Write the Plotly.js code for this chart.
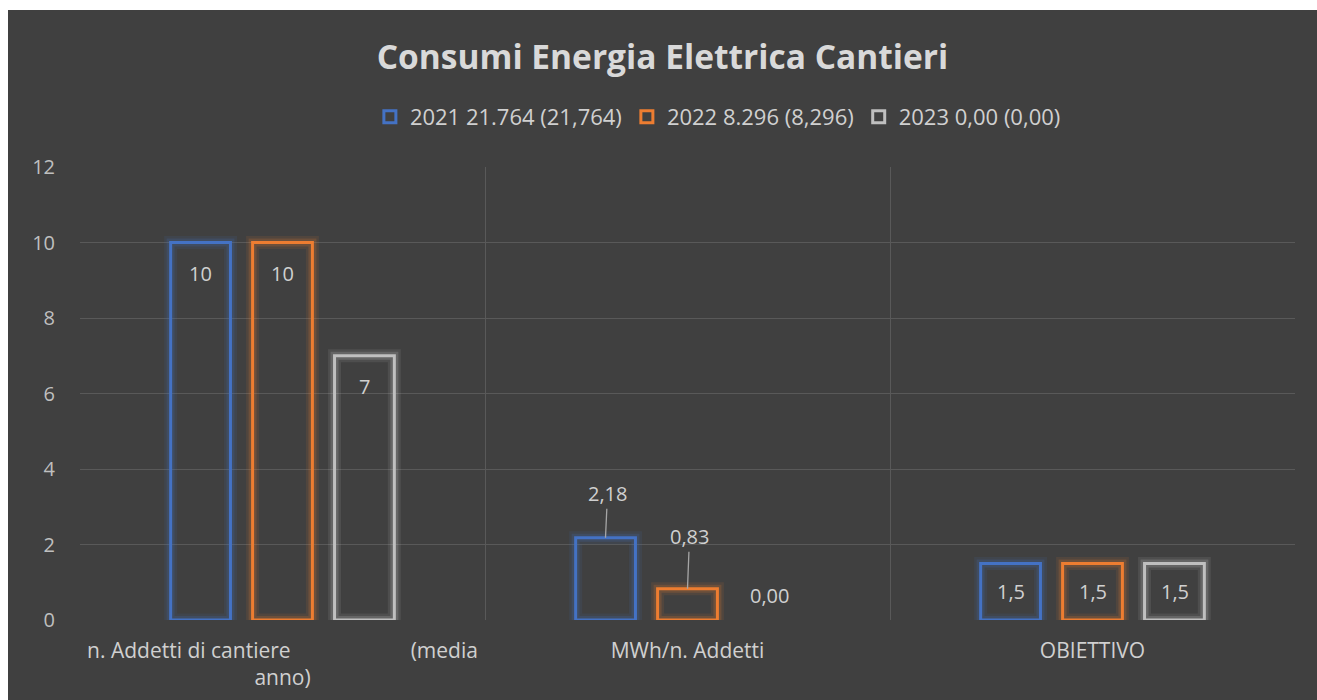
<!DOCTYPE html>
<html><head><meta charset="utf-8">
<script src="https://cdn.plot.ly/plotly-3.0.1.min.js"></script>
<style>html,body{margin:0;padding:0;background:#fff;overflow:hidden}
#chart{position:absolute;left:8px;top:10px;width:1309px;height:690px}</style>
</head><body><div id="chart"></div><script>
const NB = "\u00A0";
const categories = ["n. Addetti di cantiere" + NB.repeat(22) + "(media<br>anno)", "MWh/n. Addetti", "OBIETTIVO"];
const seriesNames = ["2021 21.764 (21,764)", "2022 8.296 (8,296)", "2023 0,00 (0,00)"];
const values2021 = [10, 2.18, 1.5];
const values2022 = [10, 0.83, 1.5];
const values2023 = [7, 0, 1.5];
const labels2021 = ["10", "2,18", "1,5"];
const labels2022 = ["10", "0,83", "1,5"];
const labels2023 = ["7", "0,00", "1,5"];
const yTicks = [0, 2, 4, 6, 8, 10, 12];

const seriesValues = [values2021, values2022, values2023];
const seriesLabels = [labels2021, labels2022, labels2023];
const lineColors = ["#4472C4", "#ED7D31", "#BFBFBF"];
const glowRGB = ["68,114,196", "237,125,49", "210,210,210"];
const slotShift = [-82, 0, 82];
const leaderOffset = [-42, -50, 0];
const txtColor = "#d0d0d0";
const fontFam = "'Open Sans', 'Noto Sans', sans-serif";

const traces = [];
// soft glow layers
[[13, 0.10], [8, 0.18]].forEach(([w, a]) => {
  seriesValues.forEach((vals, s) => {
    traces.push({
      type: "bar", x: categories, y: vals, offsetgroup: "g" + s, showlegend: false, hoverinfo: "skip",
      marker: {color: "rgba(0,0,0,0)", line: {color: "rgba(" + glowRGB[s] + "," + a + ")", width: vals.map(v => v > 0 ? w : 0)}}
    });
  });
});
seriesValues.forEach((vals, s) => {
  traces.push({
    type: "bar", x: categories, y: vals, name: seriesNames[s], offsetgroup: "g" + s,
    marker: {color: "rgba(0,0,0,0)", line: {color: lineColors[s], width: vals.map(v => v > 0 ? 3 : 0)}}
  });
});

const annotations = [];
seriesValues.forEach((vals, s) => {
  vals.forEach((v, i) => {
    const base = {x: categories[i], xref: "x", yref: "y", text: seriesLabels[s][i],
      xshift: slotShift[s], font: {size: 20, color: txtColor, family: fontFam}};
    if (i === 0) {
      annotations.push(Object.assign(base, {y: v, yanchor: "top", yshift: -15, showarrow: false}));
    } else if (i === 2) {
      annotations.push(Object.assign(base, {y: v / 2, yanchor: "middle", showarrow: false}));
    } else if (v > 0) {
      annotations.push(Object.assign(base, {y: v, showarrow: true, arrowhead: 0, arrowwidth: 1.3,
        arrowcolor: "#a6a6a6", ax: 2, ay: leaderOffset[s] - 2, axref: "pixel", ayref: "pixel", standoff: 0}));
    } else {
      annotations.push(Object.assign(base, {y: v, yanchor: "bottom", yshift: 9, showarrow: false}));
    }
  });
});

const layout = {
  width: 1309, height: 690,
  paper_bgcolor: "#404040", plot_bgcolor: "#404040",
  margin: {l: 72, r: 22, t: 157, b: 80},
  barmode: "group", bargap: 0.393, bargroupgap: 0.27,
  title: {text: "<b>Consumi Energia Elettrica Cantieri</b>", x: 0.5, xanchor: "center",
    y: 0.932, yanchor: "middle", yref: "container",
    font: {size: 33.5, color: "#d9d9d9", family: fontFam}},
  legend: {orientation: "h", x: 0.525, xanchor: "center", y: 0.845, yanchor: "middle", yref: "container",
    font: {size: 22, color: txtColor, family: fontFam}, itemwidth: 30, bgcolor: "rgba(0,0,0,0)"},
  xaxis: {type: "category", tickson: "boundaries", showgrid: true, gridcolor: "#595959", gridwidth: 1,
    ticks: "", showline: false, zeroline: false, ticklabelstandoff: 16,
    tickfont: {size: 21, color: txtColor, family: fontFam}},
  yaxis: {range: [0, 12], tickvals: yTicks, showgrid: true, gridcolor: "#595959", gridwidth: 1,
    zeroline: false, showline: false, ticks: "", ticklabelstandoff: 24,
    tickfont: {size: 20, color: "#bfbfbf", family: fontFam}},
  annotations: annotations,
  font: {family: fontFam, color: txtColor}
};
Plotly.newPlot("chart", traces, layout, {displayModeBar: false, staticPlot: true});
</script></body></html>
